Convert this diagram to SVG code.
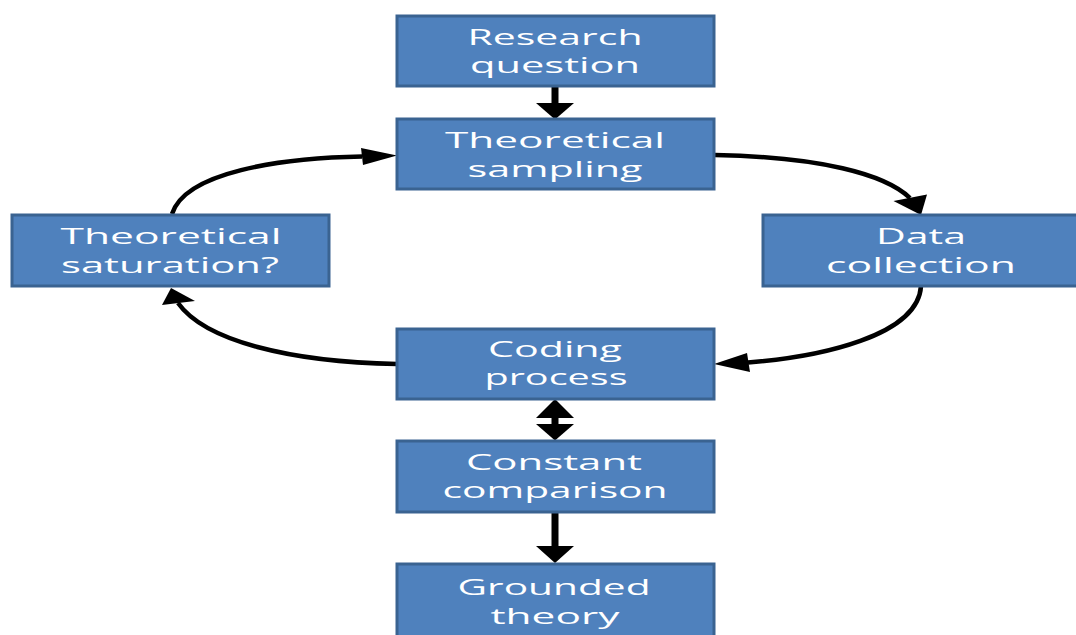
<svg xmlns="http://www.w3.org/2000/svg" width="1076" height="635" viewBox="0 0 1076 635">
  <defs>
    <style>
      .box { fill: #4F81BD; stroke: #3A6391; stroke-width: 3; }
      .lbl { fill: #FFFFFF; font-family: "Open Sans", "Liberation Sans", sans-serif; font-size: 22.5px; text-anchor: middle; }
      .shaft { stroke: #000; stroke-width: 7; fill: none; }
      .curve { stroke: #000; stroke-width: 4.5; fill: none; }
      .head { fill: #000; }
    </style>
  </defs>
  <rect width="1076" height="635" fill="#FFFFFF"/>

  <g id="connectors">
    <!-- straight vertical links -->
    <line class="shaft" x1="555" y1="86" x2="555" y2="104"/>
    <polygon class="head" points="536,103 574,103 555,119.5"/>

    <line class="shaft" x1="555" y1="415" x2="555" y2="426"/>
    <polygon class="head" points="555,399 574,418 536,418"/>
    <polygon class="head" points="536,424 574,424 555,440.5"/>

    <line class="shaft" x1="555" y1="513" x2="555" y2="548"/>
    <polygon class="head" points="536,546 574,546 555,563"/>

    <!-- cycle around the coding loop -->
    <path class="curve" d="M715,155 C820,157 885,174 910,198"/>
    <polygon class="head" points="921,215 893.5,201 927,194.5"/>

    <path class="curve" d="M921,286 C918,336 820,357 748,362.5"/>
    <polygon class="head" points="714,364 747,353 750,372"/>

    <path class="curve" d="M397,364 C290,362 205,341 178,303"/>
    <polygon class="head" points="171,288 162,305 195,301"/>

    <path class="curve" d="M172,214 C185,172 280,158 362,156.5"/>
    <polygon class="head" points="397,155.5 361,148 363,165"/>
  </g>

  <g id="research-question">
    <rect class="box" x="397" y="16" width="317" height="70"/>
    <text class="lbl" x="555" y="45" textLength="175" lengthAdjust="spacingAndGlyphs">Research</text>
    <text class="lbl" x="555" y="73" textLength="170" lengthAdjust="spacingAndGlyphs">question</text>
  </g>

  <g id="theoretical-sampling">
    <rect class="box" x="397" y="119" width="317" height="70"/>
    <text class="lbl" x="555" y="148" textLength="220" lengthAdjust="spacingAndGlyphs">Theoretical</text>
    <text class="lbl" x="555" y="177" textLength="175" lengthAdjust="spacingAndGlyphs">sampling</text>
  </g>

  <g id="theoretical-saturation">
    <rect class="box" x="12" y="215" width="317" height="71"/>
    <text class="lbl" x="171" y="244" textLength="221" lengthAdjust="spacingAndGlyphs">Theoretical</text>
    <text class="lbl" x="170" y="273" textLength="218" lengthAdjust="spacingAndGlyphs">saturation?</text>
  </g>

  <g id="data-collection">
    <rect class="box" x="763" y="215" width="317" height="71"/>
    <text class="lbl" x="921" y="244" textLength="90" lengthAdjust="spacingAndGlyphs">Data</text>
    <text class="lbl" x="921" y="273" textLength="190" lengthAdjust="spacingAndGlyphs">collection</text>
  </g>

  <g id="coding-process">
    <rect class="box" x="397" y="329" width="317" height="70"/>
    <text class="lbl" x="555" y="357" textLength="134" lengthAdjust="spacingAndGlyphs">Coding</text>
    <text class="lbl" x="556" y="385" textLength="143" lengthAdjust="spacingAndGlyphs">process</text>
  </g>

  <g id="constant-comparison">
    <rect class="box" x="397" y="441" width="317" height="71"/>
    <text class="lbl" x="554" y="470" textLength="176" lengthAdjust="spacingAndGlyphs">Constant</text>
    <text class="lbl" x="555" y="498" textLength="225" lengthAdjust="spacingAndGlyphs">comparison</text>
  </g>

  <g id="grounded-theory">
    <rect class="box" x="397" y="564" width="317" height="80"/>
    <text class="lbl" x="554" y="595" textLength="193" lengthAdjust="spacingAndGlyphs">Grounded</text>
    <text class="lbl" x="555" y="624" textLength="129" lengthAdjust="spacingAndGlyphs">theory</text>
  </g>
</svg>
